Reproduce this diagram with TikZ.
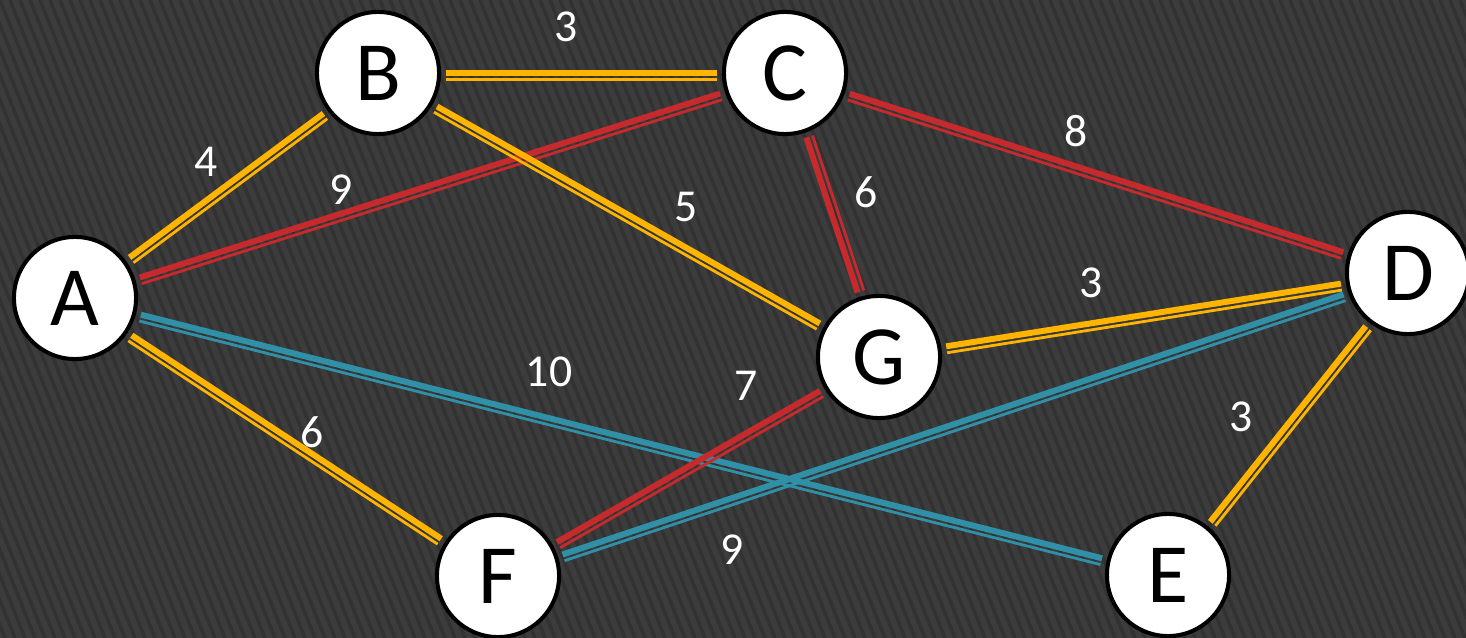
\documentclass[tikz,border=0pt]{standalone}
\usepackage{fontspec}
\setmainfont{Carlito}
\usetikzlibrary{calc}

\definecolor{bgdark}{HTML}{3C3C3C}
\definecolor{bgstripe}{HTML}{323232}
\definecolor{linkgold}{HTML}{FFB400}
\definecolor{linkred}{HTML}{C62A2D}
\definecolor{linkteal}{HTML}{2F90A8}

\pgfdeclarelayer{bg}
\pgfdeclarelayer{edges}
\pgfsetlayers{bg,edges,main}

\begin{document}
\begin{tikzpicture}[
        x=0.02cm, y=-0.02cm,
        vertex/.style={circle, draw=black, line width=2.3pt, fill=white, minimum size=69.5pt, inner sep=0pt, font=\fontsize{48}{48}\selectfont},
        link/.style={draw=#1, line width=3.4pt, shorten <=2.8pt, shorten >=2.8pt},
        linkthin/.style={draw=#1, line width=1.6pt, shorten <=38.7pt, shorten >=38.7pt},
        weight/.style={text=white, inner sep=0pt, font=\fontsize{26}{26}\selectfont}
    ]
        \useasboundingbox (0,0) rectangle (1466,638);

        % background with stripes
        \begin{pgfonlayer}{bg}
            \fill[bgdark] (0,0) rectangle (1466,638);
            \begin{scope}
                \clip (0,0) rectangle (1466,638);
                \foreach \s in {-260,-250,...,1470}
                    \draw[bgstripe, line width=2pt] (\s,0) -- ++(255,638);
            \end{scope}
        \end{pgfonlayer}

        \node[vertex] (A) at (75,298) {A};
        \node[vertex] (B) at (378,73) {B};
        \node[vertex] (C) at (785,73) {C};
        \node[vertex] (D) at (1408,273) {D};
        \node[vertex] (E) at (1168,575) {E};
        \node[vertex] (F) at (498,576) {F};
        \node[vertex] (G) at (879,357) {G};

        % edges: thick line plus a thin one beside it
        \begin{pgfonlayer}{edges}
            \foreach \from/\to/\col in {A/B/linkgold, A/C/linkred, A/E/linkteal, A/F/linkgold,
                    B/C/linkgold, B/G/linkgold, G/C/linkred, C/D/linkred,
                    G/D/linkgold, F/G/linkred, F/D/linkteal, E/D/linkgold}{
                \draw[link=\col] (\from) -- (\to);
                \draw[linkthin=\col] ($(\from)!3.7pt!-90:(\to)$) -- ($(\to)!3.7pt!90:(\from)$);
            }
        \end{pgfonlayer}

        \node[weight] (wBC) at (566,27) {3};
        \node[weight] (wAB) at (206,162) {4};
        \node[weight] (wAC) at (341,190) {9};
        \node[weight] (wBG) at (686,207) {5};
        \node[weight] (wCD) at (1076,131) {8};
        \node[weight] (wCG) at (866,192) {6};
        \node[weight] (wGD) at (1091,283) {3};
        \node[weight] (wAE) at (549,372) {10};
        \node[weight] (wFG) at (746,386) {7};
        \node[weight] (wAF) at (312,432) {6};
        \node[weight] (wDE) at (1241,417) {3};
        \node[weight] (wFD) at (732,550) {9};
    \end{tikzpicture}
\end{document}
